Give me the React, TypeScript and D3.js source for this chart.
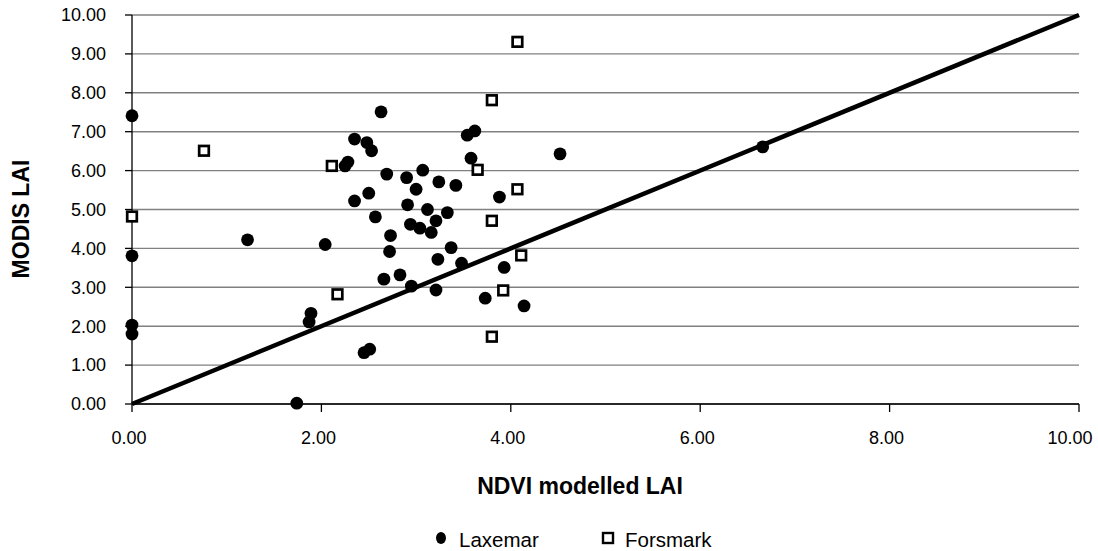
import React from "react";
import * as d3 from "d3";

// Laxemar: [NDVI modelled LAI, MODIS LAI]
const laxemar: [number, number][] = [
  [0.0, 7.41], [0.0, 3.81], [0.0, 2.03], [0.0, 1.8], [1.22, 4.22], [1.74, 0.02],
  [1.87, 2.11], [1.89, 2.33], [2.04, 4.1], [2.25, 6.12], [2.28, 6.22], [2.35, 5.22],
  [2.35, 6.81], [2.45, 1.32], [2.48, 6.72], [2.5, 5.42], [2.53, 6.51], [2.51, 1.41],
  [2.57, 4.81], [2.63, 7.51], [2.66, 3.21], [2.69, 5.91], [2.72, 3.92], [2.73, 4.33],
  [2.83, 3.32], [2.9, 5.82], [2.91, 5.12], [2.94, 4.62], [2.95, 3.03], [3.0, 5.52],
  [3.04, 4.52], [3.07, 6.01], [3.12, 5.0], [3.16, 4.41], [3.21, 4.71], [3.21, 2.93],
  [3.23, 3.72], [3.24, 5.71], [3.33, 4.92], [3.37, 4.02], [3.42, 5.62], [3.48, 3.62],
  [3.54, 6.91], [3.58, 6.32], [3.62, 7.02], [3.73, 2.72], [3.88, 5.32], [3.93, 3.51],
  [4.14, 2.52], [4.52, 6.43], [6.66, 6.61],
];

// Forsmark
const forsmark: [number, number][] = [
  [0.0, 4.82], [0.76, 6.51], [2.11, 6.12], [2.17, 2.82], [3.65, 6.02], [3.8, 7.81],
  [3.8, 4.71], [3.8, 1.73], [3.92, 2.92], [4.07, 9.31], [4.07, 5.52], [4.11, 3.82],
];

const xTicks = [0, 2, 4, 6, 8, 10];
const yTicks = [0, 1, 2, 3, 4, 5, 6, 7, 8, 9, 10];
const oneToOne: [number, number][] = [[0, 0], [10, 10]];

const W = 1098;
const H = 551;
const font = "'Liberation Sans', Arial, sans-serif";

export default function App() {
  const x = d3.scaleLinear().domain([0, 10]).range([132, 1079]);
  const y = d3.scaleLinear().domain([0, 10]).range([404, 15]);
  const line = d3.line<[number, number]>().x((d) => x(d[0])).y((d) => y(d[1]));

  return (
    <svg
      width={W}
      height={H}
      style={{ position: "absolute", left: 0, top: 0, background: "#fff" }}
      fontFamily={font}
    >
      {/* grid */}
      {yTicks.map((t) => (
        <line key={"g" + t} x1={x(0)} x2={x(10)} y1={y(t)} y2={y(t)} stroke="#808080" strokeWidth={1.4} />
      ))}
      {/* y axis */}
      <line x1={x(0)} x2={x(0)} y1={y(0)} y2={y(10)} stroke="#000" strokeWidth={1.3} />
      {yTicks.map((t) => (
        <g key={"y" + t}>
          <line x1={x(0) - 7} x2={x(0)} y1={y(t)} y2={y(t)} stroke="#000" strokeWidth={1.3} />
          <text x={106} y={y(t)} dy="0.35em" textAnchor="end" fontSize={18}>
            {t.toFixed(2)}
          </text>
        </g>
      ))}
      {/* x axis */}
      <line x1={x(0)} x2={x(10)} y1={y(0)} y2={y(0)} stroke="#000" strokeWidth={1.3} />
      {xTicks.map((t) => (
        <g key={"x" + t}>
          <line x1={x(t)} x2={x(t)} y1={y(0)} y2={y(0) + 8} stroke="#000" strokeWidth={1.3} />
          <text x={Math.min(x(t) - 3, 1070)} y={438} dy="0.35em" textAnchor="middle" fontSize={18}>
            {t.toFixed(2)}
          </text>
        </g>
      ))}
      {/* 1:1 line */}
      <path d={line(oneToOne) || ""} stroke="#000" strokeWidth={4.5} fill="none" />
      {laxemar.map((d, i) => (
        <circle key={"l" + i} cx={x(d[0])} cy={y(d[1])} r={6.4} fill="#000" />
      ))}
      {forsmark.map((d, i) => (
        <rect key={"f" + i} x={x(d[0]) - 4.8} y={y(d[1]) - 4.8} width={9.6} height={9.6} fill="#fff" stroke="#000" strokeWidth={2.7} />
      ))}
      {/* titles */}
      <text x={580} y={486} dy="0.35em" textAnchor="middle" fontSize={23} fontWeight="bold">
        NDVI modelled LAI
      </text>
      <text
        transform={`translate(21,219) rotate(-90)`}
        dy="0.35em"
        textAnchor="middle"
        fontSize={23}
        fontWeight="bold"
      >
        MODIS LAI
      </text>
      {/* legend */}
      <ellipse cx={441} cy={538} rx={5} ry={6} fill="#000" />
      <text x={459} y={547} fontSize={20.5}>Laxemar</text>
      <rect x={603} y={533} width={10} height={10} fill="#fff" stroke="#000" strokeWidth={2.4} />
      <text x={625} y={547} fontSize={20.5}>Forsmark</text>
    </svg>
  );
}
